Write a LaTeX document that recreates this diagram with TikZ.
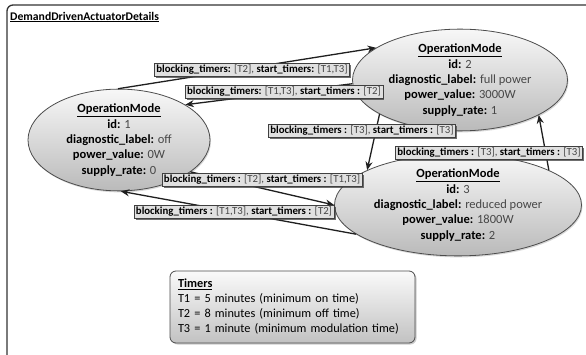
\documentclass[tikz,border=0pt]{standalone}
\usepackage{fontspec}
\setmainfont{Carlito}
\usetikzlibrary{shapes.geometric,shadows,arrows.meta}

% value text is set a little lighter than the bold keys
\newcommand{\val}[1]{{\color{black!72}#1}}

\tikzset{
  mode/.style={ellipse, draw=black!70, line width=0.8pt,
    top color=black!3, bottom color=black!27, inner sep=0pt, align=center,
    font=\fontsize{12.5}{15.3}\selectfont,
    drop shadow={shadow xshift=1pt, shadow yshift=-1.5pt, opacity=0.3}},
  trans/.style={draw=black!88, line width=1.3pt, -{Stealth[length=8.5pt,width=7pt]}},
  tag/.style={draw=black!75, line width=0.6pt, fill=black!12,
    inner xsep=2pt, inner ysep=1.6pt, font=\fontsize{10.8}{11}\selectfont,
    drop shadow={shadow xshift=1.6pt, shadow yshift=-1.6pt, opacity=0.75, fill=black!75}},
  legend/.style={draw=black!70, line width=0.8pt, rounded corners=6pt,
    top color=black!2, bottom color=black!24, align=left,
    inner xsep=8pt, text width=229pt, minimum height=72pt,
    font=\fontsize{12.3}{15}\selectfont,
    drop shadow={shadow xshift=1.5pt, shadow yshift=-1.5pt, opacity=0.4}},
  frame/.style={draw=black!80, line width=1.3pt, rounded corners=6pt}
}

\begin{document}
\begin{tikzpicture}[x=1pt,y=-1pt]
  \fill[white] (0,0) rectangle (586,355);
  \clip (0,0) rectangle (586,355);

  % enclosing package frame (runs past the right and lower edges)
  \draw[frame] (7,5) rectangle (640,400);
  \node[anchor=west, inner sep=0pt, font=\fontsize{11.7}{13}\selectfont\bfseries] (title) at (10,17)
    {\underline{DemandDrivenActuatorDetails}};

  % operation modes
  \node[mode, minimum width=182pt, minimum height=94pt] (om1) at (119,140)
    {\underline{\textbf{OperationMode}}\\ \textbf{id:} \val{1}\\
     \textbf{diagnostic\_label:} \val{off}\\ \textbf{power\_value:} \val{0W}\\
     \textbf{supply\_rate:} \val{0}};
  \node[mode, minimum width=215pt, minimum height=86pt] (om2) at (460,80)
    {\underline{\textbf{OperationMode}}\\ \textbf{id:} \val{2}\\
     \textbf{diagnostic\_label:} \val{full power}\\ \textbf{power\_value:} \val{3000W}\\
     \textbf{supply\_rate:} \val{1}};
  \node[mode, minimum width=247pt, minimum height=86pt] (om3) at (458,205)
    {\underline{\textbf{OperationMode}}\\ \textbf{id:} \val{3}\\
     \textbf{diagnostic\_label:} \val{reduced power}\\ \textbf{power\_value:} \val{1800W}\\
     \textbf{supply\_rate:} \val{2}};

  % transitions
  \draw[trans] (om1.91)  -- (om2.159);
  \draw[trans] (om2.182) -- (om1.28);
  \draw[trans] (om2.203) -- (om3.159);
  \draw[trans] (om3.21)  -- (om2.336);
  \draw[trans] (om1.336) -- (om3.180);
  \draw[trans] (om3.196) -- (om1.272);

  % transition labels
  \node[tag] (t1) at (252,70)
    {\textbf{blocking\_timers:} \val{[T2],} \textbf{start\_timers:} \val{[T1,T3]}};
  \node[tag] (t2) at (284,92)
    {\textbf{blocking\_timers:} \val{[T1,T3],} \textbf{start\_timers :} \val{[T2]}};
  \node[tag] (t3) at (362,131)
    {\textbf{blocking\_timers :} \val{[T3],} \textbf{start\_timers :} \val{[T3]}};
  \node[tag] (t4) at (489,153)
    {\textbf{blocking\_timers :} \val{[T3],} \textbf{start\_timers :} \val{[T3]}};
  \node[tag] (t5) at (262,180)
    {\textbf{blocking\_timers :} \val{[T2],} \textbf{start\_timers :} \val{[T1,T3]}};
  \node[tag] (t6) at (234,212)
    {\textbf{blocking\_timers :} \val{[T1,T3],} \textbf{start\_timers :} \val{[T2]}};

  % timer legend
  \node[legend] (timers) at (292.5,307)
    {\textbf{\underline{Timers}}\\
     T1 = 5 minutes (minimum on time)\\
     T2 = 8 minutes (minimum off time)\\
     T3 = 1 minute (minimum modulation time)};
\end{tikzpicture}
\end{document}
